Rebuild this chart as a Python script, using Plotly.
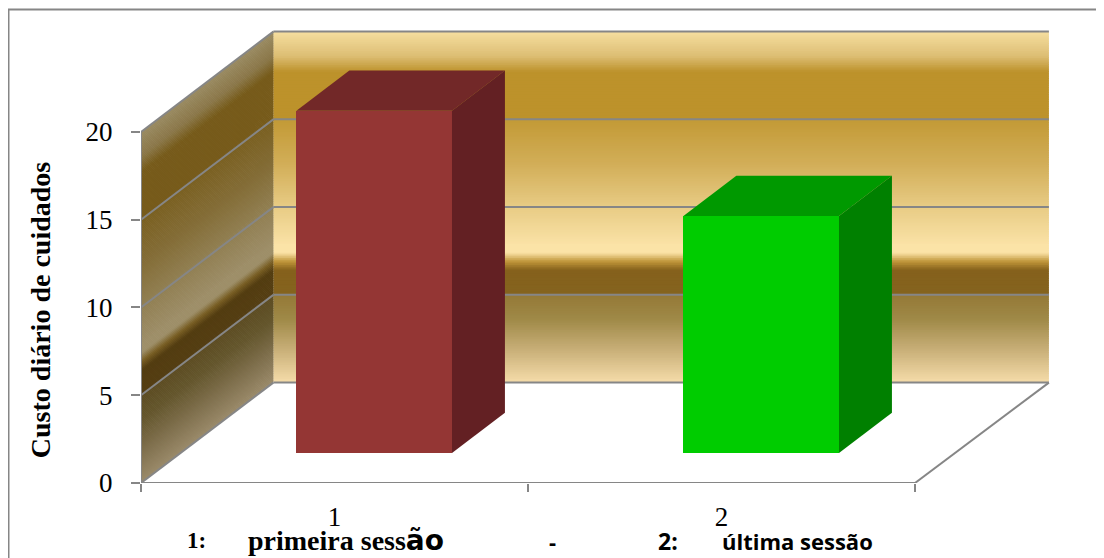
#=====================================================================
# 3D look column chart, custo diario de cuidados
#=====================================================================
import plotly.graph_objects as go

sessions = [1, 2]
custo = [19.5, 13.5]
front_colors = ["#943634", "#00CC00"]
top_colors = ["#722828", "#009900"]
side_colors = ["#632023", "#008000"]
y_ticks = [0, 5, 10, 15, 20]
x_edges = [0.5, 1.5, 2.5]

# wall gradient: position on the value scale, colour
wall_pos = [0, 1.9, 3.6, 4.95, 5.05, 6.4, 6.9, 7.4, 7.85, 10, 12.5, 15, 15.05, 17.7, 18.6, 20]
wall_col = ["#F6DDAA", "#C8AF78", "#A08A48", "#957A38", "#86641F", "#85611C", "#C0963A", "#FBE3A7",
            "#FBE3A7", "#E8CC85", "#D2AE58", "#C39A36", "#BD922B", "#BD922B", "#DDBE74", "#F6DFA0"]

DX = 0.342  # how far the depth of the box moves along x
DY = 5.72   # and along y
BACK_R = 2.504
BAR_W = 0.402
BAR_D0, BAR_D1 = 0.3, 0.7
GRAY = "#868686"
PAGE = 8  # body margin of the page

W, H = 1096, 550
left, right = 141 - PAGE, 1052 - PAGE
top_px, bottom_px = 29.5 - PAGE, 483 - PAGE


def hex_rgb(c):
    return [int(c[i:i + 2], 16) for i in (1, 3, 5)]


def wall_color(v, k=1.0):
    for i in range(len(wall_pos) - 1):
        if v <= wall_pos[i + 1]:
            t = (v - wall_pos[i]) / (wall_pos[i + 1] - wall_pos[i])
            a, b = hex_rgb(wall_col[i]), hex_rgb(wall_col[i + 1])
            return "rgb(%d,%d,%d)" % tuple(k * (p + (q - p) * t) for p, q in zip(a, b))
    return wall_col[-1]


def poly(pts):
    return "M " + " L ".join("%f,%f" % p for p in pts) + " Z"


def px(x, v, d=0.0):
    return (x + d * DX, v + d * DY)


def paper_x(page_x):
    return (page_x - PAGE - left) / (right - left)


def paper_y(page_y):
    return (bottom_px - (page_y - PAGE)) / (bottom_px - top_px)


shapes = []
step = 0.1
n = int(20 / step)
for i in range(n):
    v0, v1 = i * step, min((i + 1.5) * step, 20)
    # back wall
    shapes.append(dict(type="path", layer="below", xref="x", yref="y", line_width=0,
                       fillcolor=wall_color(v0 + step / 2),
                       path=poly([px(0.5, v0, 1), px(BACK_R, v0, 1), px(BACK_R, v1, 1), px(0.5, v1, 1)])))
    # side wall, same gradient but darker
    shapes.append(dict(type="path", layer="below", xref="x", yref="y", line_width=0,
                       fillcolor=wall_color(v0 + step / 2, 0.63),
                       path=poly([px(0.5, v0), px(0.5, v0, 1), px(0.5, v1, 1), px(0.5, v1)])))


def gray_line(a, b):
    shapes.append(dict(type="line", layer="below", xref="x", yref="y", line=dict(color=GRAY, width=2),
                       x0=a[0], y0=a[1], x1=b[0], y1=b[1]))


for v in y_ticks:
    gray_line(px(0.5, v), px(0.5, v, 1))
    gray_line(px(0.5, v, 1), px(BACK_R, v, 1))
gray_line(px(2.5, 0), px(BACK_R, 0, 1))

# frame of the chart
shapes.append(dict(type="line", xref="paper", yref="paper", line=dict(color=GRAY, width=2),
                   x0=paper_x(8), x1=paper_x(1104), y0=paper_y(9), y1=paper_y(9)))
shapes.append(dict(type="line", xref="paper", yref="paper", line=dict(color=GRAY, width=2),
                   x0=paper_x(8.5), x1=paper_x(8.5), y0=paper_y(558), y1=paper_y(9)))

fig = go.Figure()

# front faces
fig.add_trace(go.Bar(
    x=[s + BAR_D0 * DX for s in sessions],
    y=custo,
    base=[BAR_D0 * DY] * len(custo),
    width=BAR_W,
    marker=dict(color=front_colors, line_width=0),
    hoverinfo="skip",
))

# top and side faces
for s, c, ct, cs in zip(sessions, custo, top_colors, side_colors):
    l, r = s - BAR_W / 2, s + BAR_W / 2
    top = [px(l, c, BAR_D0), px(r, c, BAR_D0), px(r, c, BAR_D1), px(l, c, BAR_D1)]
    side = [px(r, 0, BAR_D0), px(r, 0, BAR_D1), px(r, c, BAR_D1), px(r, c, BAR_D0)]
    for pts, col in ((top, ct), (side, cs)):
        fig.add_trace(go.Scatter(x=[p[0] for p in pts], y=[p[1] for p in pts], mode="lines",
                                 fill="toself", fillcolor=col, line=dict(width=0),
                                 hoverinfo="skip"))

# axis lines, they only reach the front of the box
fig.add_trace(go.Scatter(x=[0.5, 0.5, 2.5], y=[20, 0, 0], mode="lines", cliponaxis=False,
                         line=dict(color=GRAY, width=2), hoverinfo="skip"))

texts = [
    ("1:", 185, "Liberation Serif", 23),
    ("primeira sess<span style='font-family:DejaVu Sans'>ão</span>", 246, "Liberation Serif", 28),
    ("-", 547, "Open Sans", 22),
    ("2:", 656, "Open Sans", 23),
    ("última sessão", 720, "Open Sans", 22),
]
annotations = [dict(text="<b>%s</b>" % t, x=paper_x(x), y=paper_y(541), xref="paper", yref="paper",
                    xanchor="left", yanchor="middle", showarrow=False,
                    font=dict(family=f, size=s, color="black")) for t, x, f, s in texts]
annotations.append(dict(text="<b>Custo diário de cuidados</b>", x=paper_x(40), y=paper_y(310),
                        xref="paper", yref="paper", textangle=-90, showarrow=False,
                        xanchor="center", yanchor="middle",
                        font=dict(family="Liberation Serif", size=28, color="black")))

fig.update_layout(
    width=W,
    height=H,
    showlegend=False,
    paper_bgcolor="white",
    plot_bgcolor="white",
    margin=dict(l=left, r=W - right, t=top_px, b=H - bottom_px, pad=0),
    shapes=shapes,
    annotations=annotations,
    bargap=0,
    xaxis=dict(
        range=[0.5, 0.5 + (right - left) / 387],
        tickvals=sessions,
        ticks="",
        showgrid=False,
        zeroline=False,
        showline=False,
        ticklabelstandoff=15,
        tickfont=dict(family="Liberation Serif", size=27, color="black"),
        minor=dict(tickvals=x_edges, ticks="outside", ticklen=8, tickwidth=2, tickcolor=GRAY, showgrid=False),
    ),
    yaxis=dict(
        range=[0, (bottom_px - top_px) / 17.57],
        tickvals=y_ticks,
        ticks="outside",
        ticklen=9,
        tickwidth=2,
        tickcolor=GRAY,
        showgrid=False,
        zeroline=False,
        showline=False,
        ticklabelstandoff=13,
        tickfont=dict(family="Liberation Serif", size=27, color="black"),
    ),
)

fig.write_html("out.html")
